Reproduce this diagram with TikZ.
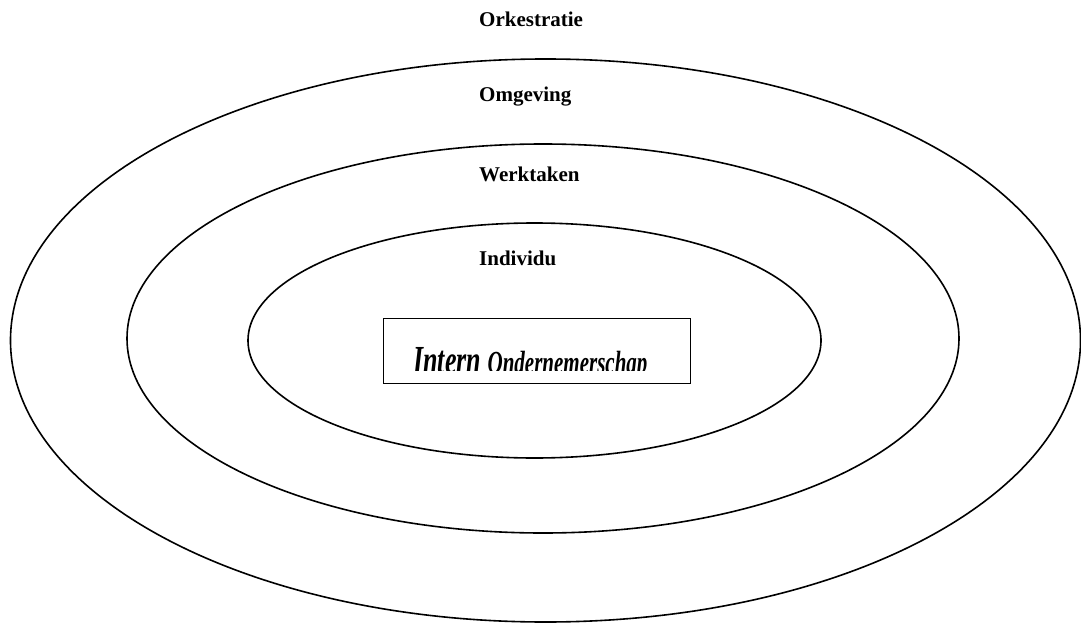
\documentclass[tikz,border=0pt]{standalone}
\usepackage{fontspec}
\setmainfont{Liberation Serif}
\begin{document}
\begin{tikzpicture}[x=1pt,y=-1pt,
  ring/.style={draw=black,line width=1.6pt},
  lbl/.style={anchor=base west,inner sep=0pt,font=\fontsize{21}{25}\selectfont\bfseries},
  boxstyle/.style={draw=black,line width=1.8pt,minimum width=307pt,minimum height=65pt,inner sep=0pt}]
\useasboundingbox (0,0) rectangle (1081,623);
\fill[white] (0,0) rectangle (1081,623);
% rings
\draw[ring] (545.5,340.5) ellipse [x radius=535, y radius=281.5];
\draw[ring] (543,338.5) ellipse [x radius=416, y radius=194.5];
\draw[ring] (534.5,340.5) ellipse [x radius=286.5, y radius=117.5];
% labels
\node[lbl] (ork) at (479,27) {Orkestratie};
\node[lbl] (omg) at (479,102) {Omgeving};
\node[lbl] (wer) at (479,181.5) {Werktaken};
\node[lbl] (ind) at (479,265) {Individu};
% box
\node[boxstyle] (box) at (537,351) {};
\begin{scope}
\clip (box.north west) rectangle (690,370);
\node[anchor=base west,inner sep=0pt] (intern) at (413,373)
  {\scalebox{1}[1.53]{\bfseries\itshape\fontsize{26}{30}\selectfont Intern \fontsize{21}{25}\selectfont Ondernemerschap}};
\end{scope}
\end{tikzpicture}
\end{document}
